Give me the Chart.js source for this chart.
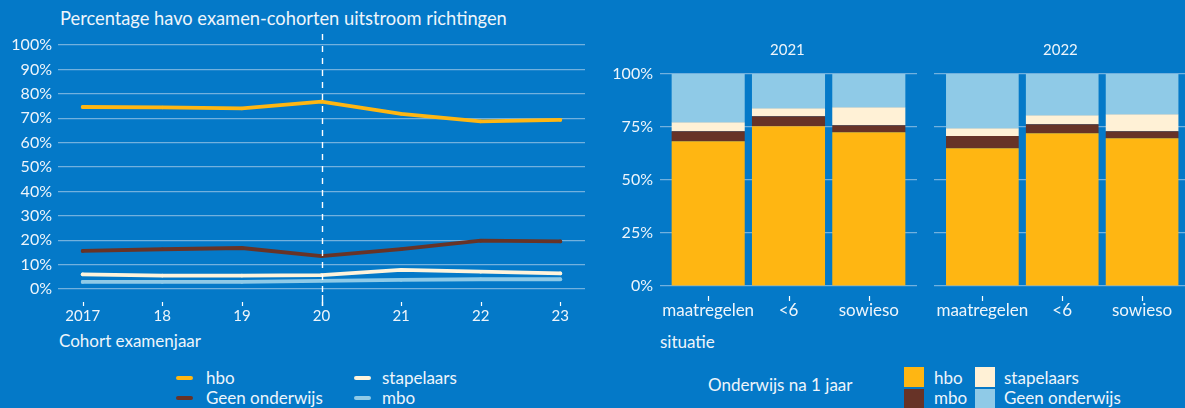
<!DOCTYPE html>
<html>
<head>
<meta charset="utf-8">
<script src="https://cdn.jsdelivr.net/npm/chart.js@4"></script>
<style>
  html, body { margin:0; padding:0; width:1185px; height:408px; overflow:hidden; background:#0479C8; }
  body { position:relative; font-family: Lato, "Open Sans", sans-serif; color:#EEF5FB; }
  .abs { position:absolute; white-space:nowrap; }
  .t17 { font-size:17px; }
  .leg-line { position:absolute; width:17px; height:4px; border-radius:2px; }
  .sw { position:absolute; width:20px; height:20px; }
</style>
</head>
<body>
<!-- left chart -->
<div class="abs" style="left:60px; top:7px; font-size:18.3px;">Percentage havo examen-cohorten uitstroom richtingen</div>
<div class="abs" style="left:0; top:0; width:600px; height:330px;"><canvas id="lineChart" width="600" height="330"></canvas></div>
<div class="abs t17" style="left:59px; top:330px;">Cohort examenjaar</div>

<div class="leg-line" style="left:176px; top:376px; background:#FFB612;"></div>
<div class="abs t17" style="left:206px; top:367px;">hbo</div>
<div class="leg-line" style="left:176px; top:396px; background:#673327;"></div>
<div class="abs t17" style="left:206px; top:387px;">Geen onderwijs</div>
<div class="leg-line" style="left:354px; top:376px; background:#FFF4DC;"></div>
<div class="abs t17" style="left:382px; top:367px;">stapelaars</div>
<div class="leg-line" style="left:354px; top:396px; background:#8FCAE7;"></div>
<div class="abs t17" style="left:382px; top:387px;">mbo</div>

<!-- right charts -->
<div class="abs" style="left:600px; top:0; width:320px; height:330px;"><canvas id="bar1" width="320" height="330"></canvas></div>
<div class="abs" style="left:920px; top:0; width:275px; height:330px;"><canvas id="bar2" width="275" height="330"></canvas></div>
<div class="abs" style="left:770px; top:40px; font-size:15px;">2021</div>
<div class="abs" style="left:1043px; top:40px; font-size:15px;">2022</div>
<div class="abs t17" style="left:660px; top:331px;">situatie</div>

<div class="abs t17" style="left:708px; top:374px;">Onderwijs na 1 jaar</div>
<div class="sw" style="left:904px; top:367px; background:#FFB612;"></div>
<div class="sw" style="left:904px; top:389px; background:#673327;"></div>
<div class="abs t17" style="left:934px; top:367px;">hbo</div>
<div class="abs t17" style="left:934px; top:387px;">mbo</div>
<div class="sw" style="left:975px; top:367px; background:#FFF1D6;"></div>
<div class="sw" style="left:975px; top:389px; background:#8FCAE7;"></div>
<div class="abs t17" style="left:1004px; top:367px;">stapelaars</div>
<div class="abs t17" style="left:1004px; top:387px;">Geen onderwijs</div>

<script>
// ---------- data: line chart ----------
const years = [2017, 2018, 2019, 2020, 2021, 2022, 2023];
const yearLabels = ['2017', '18', '19', '20', '21', '22', '23'];
const hboLine = [74.6, 74.4, 74.0, 76.8, 71.8, 68.7, 69.3];
const geenOnderwijsLine = [15.6, 16.3, 16.8, 13.5, 16.3, 19.8, 19.5];
const stapelaarsLine = [6.0, 5.5, 5.5, 5.7, 7.8, 7.1, 6.4];
const mboLine = [2.9, 2.9, 2.9, 3.3, 3.7, 4.0, 4.0];
const markerYear = 2020;
const lineYTicks = [0, 10, 20, 30, 40, 50, 60, 70, 80, 90, 100];

// ---------- data: stacked bars ----------
const situaties = ['maatregelen', '<6', 'sowieso'];
const panelYears = ['2021', '2022'];
const hbo2021 = [68.3, 75.4, 72.5];
const mbo2021 = [4.7, 4.7, 3.3];
const stapelaars2021 = [4.2, 3.7, 8.5];
const geen2021 = [22.8, 16.2, 15.7];
const hbo2022 = [65.0, 72.1, 69.7];
const mbo2022 = [5.7, 4.2, 3.3];
const stapelaars2022 = [3.7, 4.2, 8.0];
const geen2022 = [25.6, 19.5, 19.0];
const barYTicks = [0, 25, 50, 75, 100];

const C = { hbo:'#FFB612', brown:'#673327', cream:'#FFF4DC', creamBar:'#FFF1D6', light:'#8FCAE7', grid:'#72B1DE', text:'#EEF5FB' };
const FONT = 'Lato, "Open Sans", sans-serif';

Chart.defaults.font.family = FONT;
Chart.defaults.color = C.text;
Chart.defaults.animation = false;

const xy = (arr) => arr.map((v, i) => ({ x: years[i], y: v }));
const lineDs = (label, data, color) => ({
  label, data: xy(data), borderColor: color, backgroundColor: color,
  borderWidth: 3.8, pointRadius: 1.8, pointBorderWidth: 0, tension: 0, borderCapStyle: 'round'
});

const lineDecor = {
  id: 'lineDecor',
  afterDatasetsDraw(chart) {
    const { ctx, chartArea, scales } = chart;
    ctx.save();
    ctx.strokeStyle = '#FFFFFF';
    ctx.lineWidth = 1.2;
    // small ticks below the axis
    years.forEach(y => {
      const px = Math.round(scales.x.getPixelForValue(y)) + 0.5;
      ctx.beginPath();
      ctx.moveTo(px, chartArea.bottom + 13);
      ctx.lineTo(px, chartArea.bottom + 17);
      ctx.stroke();
    });
    // dashed marker line
    const mx = Math.round(scales.x.getPixelForValue(markerYear)) + 0.5;
    ctx.setLineDash([6, 6]);
    ctx.lineWidth = 1.4;
    ctx.beginPath();
    ctx.moveTo(mx, chartArea.top - 11);
    ctx.lineTo(mx, chartArea.bottom + 4);
    ctx.stroke();
    ctx.setLineDash([]);
    ctx.beginPath();
    ctx.moveTo(mx, chartArea.bottom + 6);
    ctx.lineTo(mx, chartArea.bottom + 17);
    ctx.stroke();
    ctx.restore();
  }
};

new Chart(document.getElementById('lineChart'), {
  type: 'line',
  data: {
    datasets: [
      lineDs('hbo', hboLine, C.hbo),
      lineDs('Geen onderwijs', geenOnderwijsLine, C.brown),
      lineDs('stapelaars', stapelaarsLine, C.cream),
      lineDs('mbo', mboLine, C.light)
    ].reverse()
  },
  options: {
    responsive: false,
    layout: { padding: { left: 0, right: 15, top: 45, bottom: 0 } },
    plugins: { legend: { display: false }, tooltip: { enabled: false } },
    scales: {
      x: {
        type: 'linear', min: 2016.69, max: 2023.31,
        afterBuildTicks: (s) => { s.ticks = years.map(v => ({ value: v })); },
        ticks: { callback: (v) => yearLabels[years.indexOf(v)], font: { size: 15 }, padding: 18, maxRotation: 0, color: C.text },
        grid: { display: false, drawTicks: false },
        border: { display: false },
        afterFit: (s) => { s.height = 41; }
      },
      y: {
        min: 0, max: 100,
        afterBuildTicks: (s) => { s.ticks = lineYTicks.map(v => ({ value: v })); },
        ticks: { callback: (v) => v + '%', font: { size: 16 }, padding: 6, color: C.text },
        grid: { color: C.grid, lineWidth: 1.2, drawTicks: false },
        border: { display: false },
        afterFit: (s) => { s.width = 58; }
      }
    }
  },
  plugins: [lineDecor]
});

// ---------- bar panels ----------
const barDecor = {
  id: 'barDecor',
  afterDraw(chart) {
    const { ctx, chartArea, scales } = chart;
    ctx.save();
    ctx.strokeStyle = '#FFFFFF';
    ctx.lineWidth = 1.2;
    situaties.forEach((s, i) => {
      const px = Math.round(scales.x.getPixelForValue(i)) + 0.5;
      ctx.beginPath();
      ctx.moveTo(px, chartArea.bottom + 10);
      ctx.lineTo(px, chartArea.bottom + 15);
      ctx.stroke();
    });
    ctx.restore();
  }
};

function barChart(id, hbo, mbo, stap, geen, showY, padLeft, padRight) {
  const toXY = (arr) => arr.map((v, i) => ({ x: i, y: v }));
  const ds = (label, data, color) => ({ label, data: toXY(data), backgroundColor: color, borderWidth: 0, barPercentage: 0.91, categoryPercentage: 1.0 });
  return new Chart(document.getElementById(id), {
    type: 'bar',
    data: {
      datasets: [
        ds('hbo', hbo, C.hbo),
        ds('mbo', mbo, C.brown),
        ds('stapelaars', stap, C.creamBar),
        ds('Geen onderwijs', geen, C.light)
      ]
    },
    options: {
      responsive: false,
      layout: { padding: { left: padLeft, right: padRight, top: 74, bottom: 0 } },
      plugins: { legend: { display: false }, tooltip: { enabled: false } },
      scales: {
        x: {
          type: 'linear', stacked: true, min: -0.6, max: 2.6, offset: false,
          afterBuildTicks: (s) => { s.ticks = situaties.map((_, i) => ({ value: i })); },
          ticks: { callback: (v) => situaties[v], font: { size: 17 }, padding: 14, maxRotation: 0, autoSkip: false, color: C.text },
          grid: { display: false, drawTicks: false },
          border: { display: false },
          afterFit: (s) => { s.height = 44; }
        },
        y: {
          stacked: true, min: 0, max: 100,
          afterBuildTicks: (s) => { s.ticks = barYTicks.map(v => ({ value: v })); },
          ticks: { display: showY, callback: (v) => v + '%', font: { size: 16 }, padding: 7, color: C.text },
          grid: { color: C.grid, lineWidth: 1.2, drawTicks: false },
          border: { display: false },
          afterFit: (s) => { s.width = showY ? 60 : 0; }
        }
      }
    },
    plugins: [barDecor]
  });
}

barChart('bar1', hbo2021, mbo2021, stapelaars2021, geen2021, true, 0, 3);
barChart('bar2', hbo2022, mbo2022, stapelaars2022, geen2022, false, 13, 5);
</script>
</body>
</html>
